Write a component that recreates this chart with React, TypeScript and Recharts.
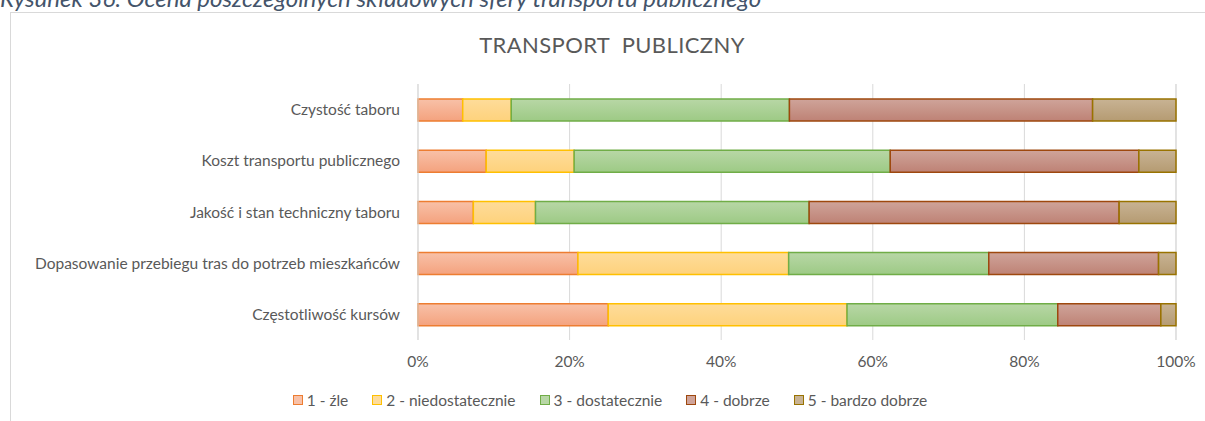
import React from 'react';
import { BarChart, Bar, XAxis, YAxis, CartesianGrid, Legend } from 'recharts';

const CATEGORIES = [
  'Czystość taboru',
  'Koszt transportu publicznego',
  'Jakość i stan techniczny taboru',
  'Dopasowanie przebiegu tras do potrzeb mieszkańców',
  'Częstotliwość kursów',
];
const ZLE = [5.9, 9.0, 7.3, 21.1, 25.1];
const NIEDOSTATECZNIE = [6.4, 11.6, 8.2, 27.8, 31.5];
const DOSTATECZNIE = [36.7, 41.7, 36.1, 26.4, 27.8];
const DOBRZE = [40.0, 32.8, 40.9, 22.4, 13.6];
const BARDZO_DOBRZE = [11.0, 4.9, 7.5, 2.3, 2.0];
const X_TICKS = [0, 20, 40, 60, 80, 100];

const SERIES = [
  { key: 'zle', name: '1 - źle', values: ZLE, top: '#F8C1A8', bottom: '#F4A27E', stroke: '#ED7D31' },
  { key: 'niedost', name: '2 - niedostatecznie', values: NIEDOSTATECZNIE, top: '#FEDC9A', bottom: '#FED27C', stroke: '#FFC000' },
  { key: 'dost', name: '3 - dostatecznie', values: DOSTATECZNIE, top: '#B8D7A6', bottom: '#9DCA85', stroke: '#70AD47' },
  { key: 'dobrze', name: '4 - dobrze', values: DOBRZE, top: '#CFA49A', bottom: '#BE8275', stroke: '#9E480E' },
  { key: 'bdobrze', name: '5 - bardzo dobrze', values: BARDZO_DOBRZE, top: '#C8B394', bottom: '#B59B72', stroke: '#997300' },
];

const data = CATEGORIES.map((name, i) => {
  const row: Record<string, string | number> = { name };
  SERIES.forEach((s) => { row[s.key] = s.values[i]; });
  return row;
});

const FONT = 'Lato, "Open Sans", sans-serif';
const GREY = '#595959';
const FS = 15.5;

const renderLegend = () => (
  <div style={{ display: 'flex', justifyContent: 'center', fontFamily: FONT, fontSize: FS, color: GREY, height: 20, alignItems: 'center' }}>
    {SERIES.map((s) => (
      <div key={s.key} style={{ display: 'flex', alignItems: 'center', margin: '0 12px' }}>
        <span style={{ width: 8, height: 8, background: s.top, border: `1.5px solid ${s.stroke}`, marginRight: 4, display: 'inline-block' }} />
        <span>{s.name}</span>
      </div>
    ))}
  </div>
);

export default function App() {
  return (
    <div style={{ position: 'relative', width: 1205, height: 421, overflow: 'hidden', background: '#fff' }}>
      <style>{'body{margin:0}'}</style>
      <div style={{ position: 'absolute', left: 10, top: 12, width: 1200, height: 420, border: '1px solid #D9D9D9' }} />
      <svg width={1205} height={421} style={{ position: 'absolute', left: 0, top: 0, pointerEvents: 'none' }}>
        <text x={0} y={7} fontFamily={FONT} fontStyle="italic" fontSize={24} fill="#44546A">
          Rysunek 36: Ocena poszczególnych składowych sfery transportu publicznego
        </text>
        <text x={612} y={53} textAnchor="middle" fontFamily={FONT} fontSize={22} fill={GREY} letterSpacing={0.4} style={{ whiteSpace: 'pre' }}>
          {'TRANSPORT  PUBLICZNY'}
        </text>
      </svg>
      <div style={{ position: 'absolute', left: 0, top: 0 }}>
        <BarChart
          width={1205}
          height={421}
          data={data}
          layout="vertical"
          barSize={22}
          margin={{ top: 84, right: 29, bottom: 31, left: 0 }}
        >
          <defs>
            {SERIES.map((s) => (
              <linearGradient key={s.key} id={`grad-${s.key}`} x1="0" y1="0" x2="0" y2="1">
                <stop offset="0%" stopColor={s.top} />
                <stop offset="100%" stopColor={s.bottom} />
              </linearGradient>
            ))}
          </defs>
          <CartesianGrid horizontal={false} stroke="#D9D9D9" />
          <XAxis
            type="number"
            domain={[0, 100]}
            ticks={X_TICKS}
            tickFormatter={(v: number) => `${v}%`}
            axisLine={false}
            tickLine={false}
            tickSize={0}
            tickMargin={16}
            height={30}
            tick={{ fill: GREY, fontSize: FS, fontFamily: FONT }}
          />
          <YAxis
            type="category"
            dataKey="name"
            width={418}
            axisLine={{ stroke: '#D9D9D9' }}
            tickLine={false}
            tickSize={0}
            tickMargin={18}
            tick={{ fill: GREY, fontSize: FS, fontFamily: FONT }}
          />
          {SERIES.map((s) => (
            <Bar
              key={s.key}
              dataKey={s.key}
              name={s.name}
              stackId="a"
              fill={`url(#grad-${s.key})`}
              stroke={s.stroke}
              strokeWidth={1.5}
              isAnimationActive={false}
            />
          ))}
          <Legend verticalAlign="bottom" content={renderLegend} wrapperStyle={{ bottom: 11, left: 22 }} />
        </BarChart>
      </div>
    </div>
  );
}
